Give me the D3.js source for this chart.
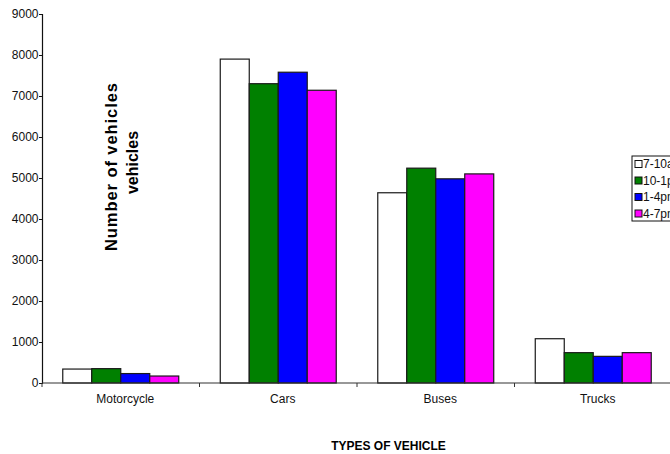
<!DOCTYPE html>
<html><head><meta charset="utf-8">
<script src="https://cdn.jsdelivr.net/npm/d3@7"></script>
<style>body{margin:0;background:#fff}svg{display:block;font-family:"Liberation Sans",Arial,sans-serif}</style>
</head><body>
<svg id="c" width="670" height="454"></svg>
<script>
const categories = ["Motorcycle", "Cars", "Buses", "Trucks"];
const seriesNames = ["7-10am", "10-1pm", "1-4pm", "4-7pm"];
const seriesColors = ["#ffffff", "#008000", "#0000ff", "#ff00ff"];
const s710 = [340, 7900, 4640, 1080];
const s101 = [350, 7300, 5240, 740];
const s14 = [230, 7580, 4980, 650];
const s47 = [170, 7140, 5100, 740];
const seriesValues = [s710, s101, s14, s47];
const yTicks = [0, 1000, 2000, 3000, 4000, 5000, 6000, 7000, 8000, 9000];

const svg = d3.select("#c");
const x0 = 42, x1 = 672, yBase = 383, yTop = 14;
const x = d3.scaleBand().domain(categories).range([x0, x1]).paddingInner(0).paddingOuter(0);
const xs = d3.scaleBand().domain(seriesNames).range([0, x.bandwidth()]).paddingInner(0).paddingOuter(0.716);
const y = d3.scaleLinear().domain([0, 9000]).range([yBase, yTop]);

// bars
categories.forEach((c, ci) => {
  seriesNames.forEach((s, si) => {
    const v = seriesValues[si][ci];
    svg.append("rect")
      .attr("x", x(c) + xs(s))
      .attr("y", y(v))
      .attr("width", xs.bandwidth())
      .attr("height", y(0) - y(v))
      .attr("fill", seriesColors[si])
      .attr("stroke", "#1a1a1a")
      .attr("stroke-width", 1.2);
  });
});

// y axis
svg.append("clipPath").attr("id", "yclip").append("rect").attr("x", -60).attr("y", 0).attr("width", 120).attr("height", 387);
const ya = svg.append("g").attr("transform", `translate(${x0},0)`).attr("clip-path", "url(#yclip)")
  .call(d3.axisLeft(y).tickValues(yTicks).tickSize(3).tickPadding(0.5).tickFormat(d3.format("d")));
ya.select(".domain").attr("stroke", "#111").attr("stroke-width", 1.2);
ya.selectAll(".tick line").attr("stroke", "#111");
ya.selectAll("text").attr("font-size", 12).attr("font-family", "Liberation Sans, Arial, sans-serif").attr("fill", "#111");

// x axis line
svg.append("line").attr("x1", x0).attr("x2", 670).attr("y1", yBase).attr("y2", yBase).attr("stroke", "#333").attr("stroke-width", 1.2);
const bounds = categories.map(c => x(c)).concat([x1]);
bounds.forEach(b => {
  svg.append("line").attr("x1", b).attr("x2", b).attr("y1", yBase).attr("y2", yBase + 4).attr("stroke", "#333");
});
categories.forEach(c => {
  svg.append("text").attr("x", x(c) + x.bandwidth() / 2 + 4.5).attr("y", 403)
    .attr("text-anchor", "middle").attr("font-size", 12).attr("fill", "#111").text(c);
});

// axis titles
svg.append("text").attr("transform", "translate(117,167) rotate(-90)").attr("text-anchor", "middle")
  .attr("font-size", 16.5).attr("font-weight", "bold").attr("fill", "#000")
  .attr("textLength", 168).attr("lengthAdjust", "spacing").text("Number of vehicles");
svg.append("text").attr("transform", "translate(138,162.5) rotate(-90)").attr("text-anchor", "middle")
  .attr("font-size", 16).attr("font-weight", "bold").attr("fill", "#000").text("vehicles");
svg.append("text").attr("x", 388.5).attr("y", 450).attr("text-anchor", "middle")
  .attr("font-size", 12).attr("font-weight", "bold")
  .attr("fill", "#000").text("TYPES OF VEHICLE");

// legend
const lg = svg.append("g").attr("transform", "translate(632,156)");
lg.append("rect").attr("x", 0).attr("y", 0).attr("width", 60).attr("height", 65).attr("fill", "#fff").attr("stroke", "#111").attr("stroke-width", 1);
seriesNames.forEach((s, i) => {
  const cy = 8 + i * 16.5;
  lg.append("rect").attr("x", 3).attr("y", cy - 3.5).attr("width", 7).attr("height", 7)
    .attr("fill", seriesColors[i]).attr("stroke", "#111").attr("stroke-width", 1);
  lg.append("text").attr("x", 11).attr("y", cy + 4.2).attr("font-size", 12).attr("fill", "#111").text(s);
});
</script>
</body></html>
